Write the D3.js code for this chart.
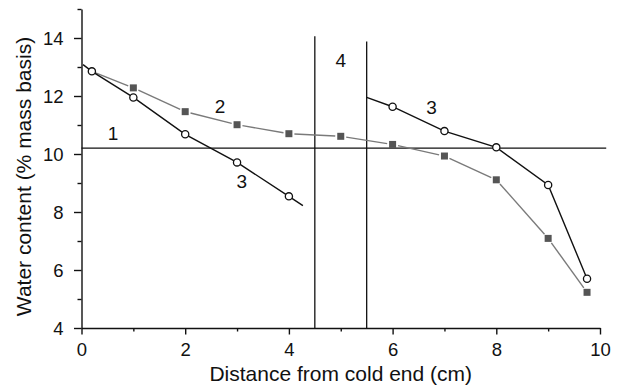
<!DOCTYPE html>
<html>
<head>
<meta charset="utf-8">
<script src="https://cdn.jsdelivr.net/npm/d3@7"></script>
<style>
  body { margin: 0; background: #fff; }
  svg { display: block; font-family: "Liberation Sans", Arial, sans-serif; }
</style>
</head>
<body>
<svg id="chart" width="621" height="389"></svg>
<script>
// Courbe 3 (cercles ouverts), partie froide
const dist3a = [0.03, 0.2, 1, 2, 3, 4, 4.27];
const water3a = [13.08, 12.85, 11.95, 10.68, 9.71, 8.54, 8.22];
const mark3a = [false, true, true, true, true, true, false];

// Courbe 3, partie chaude
const dist3b = [5.5, 6, 7, 8, 9, 9.75];
const water3b = [11.95, 11.63, 10.79, 10.23, 8.93, 5.70];
const mark3b = [false, true, true, true, true, true];

// Courbe 2 (carrés gris)
const dist2 = [0.2, 1, 2, 3, 4, 5, 6, 7, 8, 9, 9.75];
const water2 = [12.85, 12.28, 11.46, 11.01, 10.70, 10.61, 10.33, 9.93, 9.11, 7.09, 5.23];
const mark2 = [false, true, true, true, true, true, true, true, true, true, true];

// Ligne 1 (teneur initiale) et zone 4
const level1 = 10.2;
const level1Span = [0, 10.12];
const zone4 = [4.5, 5.5];
const zone4Top = [14.06, 13.88];

// Étiquettes des courbes
const labelText = ["1", "2", "3", "3", "4"];
const labelX = [0.61, 2.67, 3.09, 6.75, 5.0];
const labelY = [10.73, 11.66, 9.05, 11.6, 13.25];

const xTicks = [0, 1, 2, 3, 4, 5, 6, 7, 8, 9, 10];
const yTicks = [4, 5, 6, 7, 8, 9, 10, 11, 12, 13, 14, 15];

const svg = d3.select("#chart");
const x = d3.scaleLinear().domain([0, 10]).range([81.5, 600]);
const y = d3.scaleLinear().domain([4, 15]).range([328, 9]);

const toPts = (xs, ys) => xs.map((d, i) => ({ x: d, y: ys[i] }));

// Axes
const xAxis = d3.axisBottom(x).tickValues(xTicks)
    .tickSize(0).tickFormat(d => d % 2 === 0 ? d : "");
const gx = svg.append("g").attr("transform", `translate(0,${y(4)})`).call(xAxis);
gx.select(".domain").attr("stroke", "#111").attr("stroke-width", 1.4);
gx.selectAll(".tick line").attr("y2", d => d % 2 === 0 ? 6.5 : 3.5)
    .attr("stroke", "#111").attr("stroke-width", 1.4);
gx.selectAll(".tick text").attr("y", 15).attr("dy", "0.71em")
    .attr("font-size", 18.5).attr("font-family", "Liberation Sans, Arial, sans-serif").attr("fill", "#111");

const yAxis = d3.axisLeft(y).tickValues(yTicks)
    .tickSize(0).tickFormat(d => d % 2 === 0 ? d : "");
const gy = svg.append("g").attr("transform", `translate(${x(0)},0)`).call(yAxis);
gy.select(".domain").attr("stroke", "#111").attr("stroke-width", 1.4);
gy.selectAll(".tick line").attr("x2", d => d % 2 === 0 ? -7.5 : -4)
    .attr("stroke", "#111").attr("stroke-width", 1.4);
gy.selectAll(".tick text").attr("x", -18).attr("dy", "0.35em")
    .attr("font-size", 18.5).attr("font-family", "Liberation Sans, Arial, sans-serif").attr("fill", "#111");

// Titres d'axes
svg.append("text")
    .attr("x", (x(0) + x(10)) / 2).attr("y", 381)
    .attr("text-anchor", "middle").attr("font-size", 21).attr("fill", "#111")
    .text("Distance from cold end (cm)");
svg.append("text")
    .attr("transform", "translate(31,176.5) rotate(-90)")
    .attr("text-anchor", "middle").attr("font-size", 21).attr("fill", "#111")
    .text("Water content (% mass basis)");

// Ligne 1 et limites de la zone 4
svg.append("line")
    .attr("x1", x(level1Span[0])).attr("x2", x(level1Span[1]))
    .attr("y1", y(level1)).attr("y2", y(level1))
    .attr("stroke", "#111").attr("stroke-width", 1.3);
svg.selectAll(".zone").data(zone4).join("line")
    .attr("x1", d => x(d)).attr("x2", d => x(d))
    .attr("y1", (d, i) => y(zone4Top[i])).attr("y2", y(4))
    .attr("stroke", "#111").attr("stroke-width", 1.3);

// Courbe 2 : segments gris interrompus autour des carrés
const pts2 = toPts(dist2, water2);
const gap = 5.5;
const segs = d3.pairs(pts2.map((p, i) => ({ ...p, m: mark2[i] }))).map(([a, b]) => {
  const ax = x(a.x), ay = y(a.y), bx = x(b.x), by = y(b.y);
  const len = Math.hypot(bx - ax, by - ay), ux = (bx - ax) / len, uy = (by - ay) / len;
  const ga = a.m ? gap : 0, gb = b.m ? gap : 0;
  return [ax + ux * ga, ay + uy * ga, bx - ux * gb, by - uy * gb];
});
svg.selectAll(".seg2").data(segs).join("line")
    .attr("x1", d => d[0]).attr("y1", d => d[1]).attr("x2", d => d[2]).attr("y2", d => d[3])
    .attr("stroke", "#7a7a7a").attr("stroke-width", 1.4);

// Courbe 3 : lignes noires
const line = d3.line().x(d => x(d.x)).y(d => y(d.y));
[toPts(dist3a, water3a), toPts(dist3b, water3b)].forEach(p => {
  svg.append("path").datum(p).attr("d", line)
      .attr("fill", "none").attr("stroke", "#111").attr("stroke-width", 1.4);
});

// Marqueurs carrés
const sq = 7;
svg.selectAll(".sq").data(pts2.filter((d, i) => mark2[i])).join("rect")
    .attr("x", d => x(d.x) - sq / 2).attr("y", d => y(d.y) - sq / 2)
    .attr("width", sq).attr("height", sq).attr("fill", "#555");

// Marqueurs cercles
const circ = toPts(dist3a, water3a).filter((d, i) => mark3a[i])
    .concat(toPts(dist3b, water3b).filter((d, i) => mark3b[i]));
svg.selectAll(".circ").data(circ).join("circle")
    .attr("cx", d => x(d.x)).attr("cy", d => y(d.y)).attr("r", 3.6)
    .attr("fill", "#fff").attr("stroke", "#111").attr("stroke-width", 1.3);

// Numéros des courbes
svg.selectAll(".lab").data(labelText).join("text")
    .attr("x", (d, i) => x(labelX[i])).attr("y", (d, i) => y(labelY[i]))
    .attr("dy", "0.36em").attr("text-anchor", "middle")
    .attr("font-size", 19).attr("fill", "#111")
    .text(d => d);
</script>
</body>
</html>
